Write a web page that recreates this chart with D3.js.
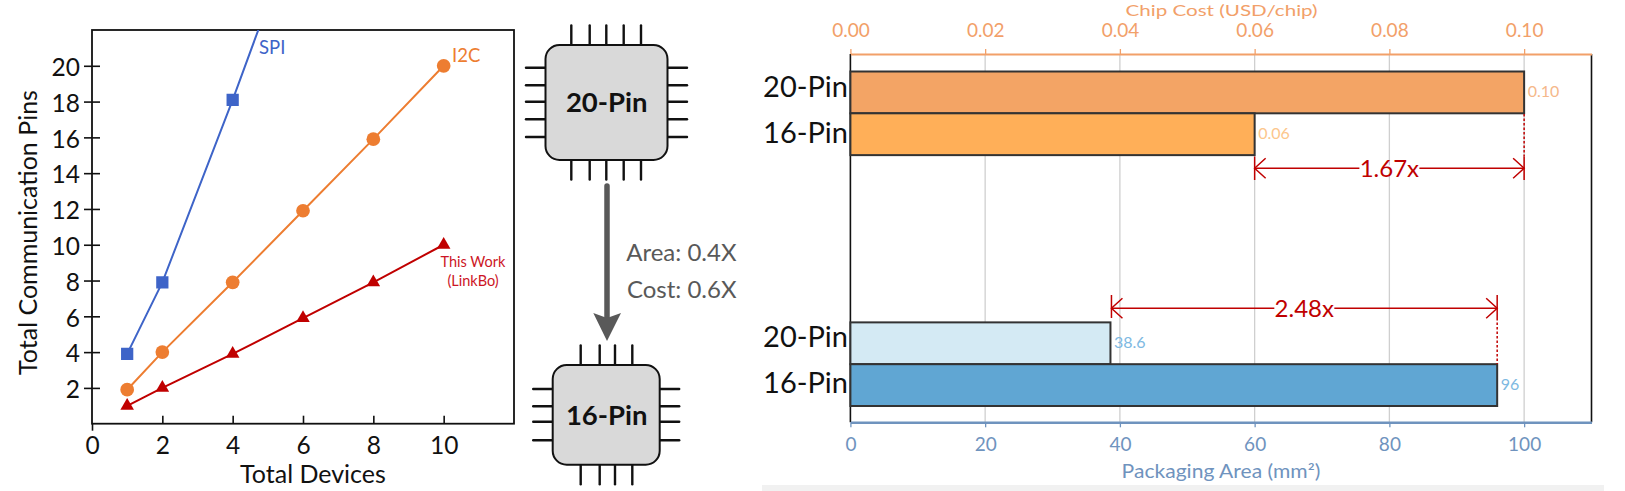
<!DOCTYPE html>
<html><head><meta charset="utf-8">
<script src="https://cdnjs.cloudflare.com/ajax/libs/d3/7.8.5/d3.min.js"></script>
<style>html,body{margin:0;padding:0;background:#fff}svg{display:block}text{font-family:Lato,"Noto Sans",sans-serif}</style>
</head><body><svg id="c" width="1625" height="491"></svg>
<script>
// ---- left line chart data
const spiDevices=[1,2,4,6];
const spiPins=[3.9,7.9,18.1,28.8];
const i2cDevices=[1,2,4,6,8,10];
const i2cPins=[1.9,4,7.9,11.9,15.9,20];
const workDevices=[1,2,4,6,8,10];
const workPins=[1,2,3.9,5.9,7.9,10];
const lineXTicks=[0,2,4,6,8,10];
const lineYTicks=[2,4,6,8,10,12,14,16,18,20];
// ---- right bar chart data
const rowSlots=["cost20","cost16","gap1","gap2","gap3","gap4","area20","area16"];
const rowLabels=["20-Pin","16-Pin","","","","","20-Pin","16-Pin"];
const costRows=["cost20","cost16"];
const costValues=[0.10,0.06];
const costText=["0.10","0.06"];
const areaRows=["area20","area16"];
const areaValues=[38.6,96];
const areaText=["38.6","96"];
const costTicks=[0,0.02,0.04,0.06,0.08,0.10];
const areaTicks=[0,20,40,60,80,100];

const svg=d3.select("#c");
const RED="#C00000",BLUE="#3E64C8",ORANGE="#ED7D31";
function txt(g,s,x,y,size,fill,anchor,weight){
  return g.append("text").text(s).attr("x",x).attr("y",y).attr("font-size",size).attr("fill",fill)
    .attr("text-anchor",anchor||"start").attr("font-weight",weight||400);
}
function wideTxt(g,s,x,y,size,fill,sx){
  return g.append("text").text(s).attr("transform",`translate(${x},${y}) scale(${sx},1)`).attr("font-size",size)
    .attr("fill",fill).attr("text-anchor","middle");
}
// ================= line chart
const L={l:92,r:514,t:30,b:423.7};
const lx=d3.scaleLinear().domain([0,12]).range([L.l,L.r]);
const ly=d3.scaleLinear().domain([0,22]).range([L.b,L.t]);
const lg=svg.append("g");
lg.append("defs").append("clipPath").attr("id","plot").append("rect")
  .attr("x",L.l).attr("y",L.t).attr("width",L.r-L.l).attr("height",L.b-L.t+8);
const xa=lg.append("g").attr("transform",`translate(0,${L.b})`).call(d3.axisBottom(lx).tickValues(lineXTicks).tickFormat(d3.format("d")).tickSizeOuter(0));
xa.select(".domain").remove();
xa.selectAll("line").attr("y1",d=>d===0?0:-8).attr("y2",d=>d===0?7:0).attr("stroke","#111").attr("stroke-width",1.6);
xa.selectAll("text").attr("y",0).attr("dy",0).attr("transform","translate(0,30.6)").attr("font-size",24.5).attr("fill","#111").attr("font-family","Lato");
const ya=lg.append("g").attr("transform",`translate(${L.l},0)`).call(d3.axisLeft(ly).tickValues(lineYTicks).tickFormat(d3.format("d")).tickSizeOuter(0));
ya.select(".domain").remove();
ya.selectAll("line").attr("x1",-8).attr("x2",8).attr("stroke","#111").attr("stroke-width",1.6);
ya.selectAll("text").attr("x",-12).attr("dy",0).attr("y",9.7).attr("font-size",24.5).attr("fill","#111").attr("font-family","Lato");
lg.append("rect").attr("x",L.l).attr("y",L.t).attr("width",L.r-L.l).attr("height",L.b-L.t).attr("fill","none").attr("stroke","#111").attr("stroke-width",1.8);
const line=d3.line().x(d=>lx(d[0])).y(d=>ly(d[1]));
const series=[
 {xs:spiDevices,ys:spiPins,c:BLUE,sym:d3.symbolSquare,size:150},
 {xs:i2cDevices,ys:i2cPins,c:ORANGE,sym:d3.symbolCircle,size:148},
 {xs:workDevices,ys:workPins,c:RED,sym:d3.symbolTriangle,size:80}];
series.forEach(s=>{
  const pts=s.xs.map((x,i)=>[x,s.ys[i]]);
  const g=lg.append("g").attr("clip-path","url(#plot)");
  g.append("path").attr("d",line(pts)).attr("fill","none").attr("stroke",s.c).attr("stroke-width",2);
  g.selectAll("path.m").data(pts).join("path").attr("class","m")
    .attr("d",d3.symbol().type(s.sym).size(s.size))
    .attr("transform",d=>`translate(${lx(d[0])},${ly(d[1])})`)
    .attr("fill",s.c);
});
txt(lg,"SPI",259,54,18.5,BLUE);
txt(lg,"I2C",452,61.7,18.5,ORANGE);
txt(lg,"This Work",473,266.7,14.5,"#CC1525","middle");
txt(lg,"(LinkBo)",473,286,14.5,"#CC1525","middle");
txt(lg,"Total Devices",313,483.3,25,"#111","middle");
lg.append("text").text("Total Communication Pins").attr("transform","translate(37,232.5) rotate(-90)")
  .attr("text-anchor","middle").attr("font-size",25).attr("fill","#111");

// ================= chips
function chip(c){
  const g=svg.append("g");
  const pin=(x1,y1,x2,y2)=>g.append("line").attr("x1",x1).attr("y1",y1).attr("x2",x2).attr("y2",y2)
    .attr("stroke","#111").attr("stroke-width",2.4).attr("stroke-linecap","round");
  c.hp.forEach(x=>{pin(x,c.y0-c.len,x,c.y0);pin(x,c.y1,x,c.y1+c.len);});
  c.vp.forEach(y=>{pin(c.x0-c.len,y,c.x0,y);pin(c.x1,y,c.x1+c.len,y);});
  g.append("rect").attr("x",c.x0).attr("y",c.y0).attr("width",c.x1-c.x0).attr("height",c.y1-c.y0)
    .attr("rx",14).attr("fill","#D9D9D9").attr("stroke","#111").attr("stroke-width",2);
  txt(g,c.label,c.tx,c.ty,27.5,"#111","middle",700);
}
chip({x0:545.5,x1:667.5,y0:45,y1:160,len:19.5,hp:[571.3,589.7,606.3,623.7,641],vp:[67.7,85.3,101.7,119.3,137],label:"20-Pin",tx:606.7,ty:112});
chip({x0:552.7,x1:659.7,y0:365,y1:464.7,len:19.5,hp:[580.7,599.7,615,632.3],vp:[389,406.3,421.7,440.3],label:"16-Pin",tx:606.7,ty:424.5});
// big arrow
svg.append("line").attr("x1",607).attr("x2",607).attr("y1",186).attr("y2",318).attr("stroke","#595959").attr("stroke-width",5.5).attr("stroke-linecap","round");
svg.append("path").attr("d","M593.3,313 L607,318 L621,313 L607,341 Z").attr("fill","#595959");
txt(svg,"Area: 0.4X",736.5,261,24,"#595959","end");
txt(svg,"Cost: 0.6X",736.5,297.5,24,"#595959","end");

// ================= bar chart
const B={l:850.4,r:1591.5,t:54,b:422.3};
const area=d3.scaleLinear().domain([0,110]).range([B.l,B.r]);
const cost=d3.scaleLinear().domain([0,0.11]).range([B.l,B.r]);
const row=d3.scaleBand().domain(rowSlots).range([71.5,406]);
const bg=svg.append("g");
bg.append("rect").attr("x",762).attr("y",485).attr("width",842).attr("height",6).attr("fill","#F1F1F1");
// grid
bg.selectAll("line.g").data(areaTicks.slice(1)).join("line").attr("class","g")
  .attr("x1",d=>area(d)).attr("x2",d=>area(d)).attr("y1",B.t).attr("y2",B.b).attr("stroke","#CFCFCF").attr("stroke-width",1.3);
// frame sides
bg.append("line").attr("x1",B.l).attr("x2",B.l).attr("y1",B.t).attr("y2",B.b).attr("stroke","#111").attr("stroke-width",1.6);
bg.append("line").attr("x1",B.r).attr("x2",B.r).attr("y1",B.t).attr("y2",B.b).attr("stroke","#111").attr("stroke-width",1.6);
// bars
const costFill=["#F3A465","#FFAF58"],areaFill=["#D4EAF4","#60A6D3"];
bg.selectAll("rect.c").data(costRows).join("rect").attr("class","c")
  .attr("x",B.l).attr("y",d=>row(d)).attr("height",row.bandwidth())
  .attr("width",(d,i)=>cost(costValues[i])-B.l).attr("fill",(d,i)=>costFill[i]).attr("stroke","#333").attr("stroke-width",2);
bg.selectAll("rect.a").data(areaRows).join("rect").attr("class","a")
  .attr("x",B.l).attr("y",d=>row(d)).attr("height",row.bandwidth())
  .attr("width",(d,i)=>area(areaValues[i])-B.l).attr("fill",(d,i)=>areaFill[i]).attr("stroke","#333").attr("stroke-width",2);
// category labels
const labelNudge=[4.3,9,0,0,0,0,3.4,8.3];
rowSlots.forEach((r,i)=>{ if(rowLabels[i]) txt(bg,rowLabels[i],848,row(r)+row.bandwidth()/2+labelNudge[i],29,"#111","end"); });
// value labels
const costLab=["#F5B88A","#FCC68C"],areaLab=["#7DB9E2","#7DB9E2"];
costRows.forEach((r,i)=>txt(bg,costText[i],cost(costValues[i])+3.5,row(r)+row.bandwidth()/2+4.5,16,costLab[i]));
areaRows.forEach((r,i)=>txt(bg,areaText[i],area(areaValues[i])+3.5,row(r)+row.bandwidth()/2+4.5,16,areaLab[i]));
// axes
const TOP="#F2A069",BOT="#6F93BE";
const ta=bg.append("g").attr("transform",`translate(0,${B.t})`).call(d3.axisTop(cost).tickValues(costTicks).tickFormat(d3.format(".2f")).tickSizeOuter(0).tickSizeInner(5));
ta.select(".domain").attr("stroke",TOP).attr("stroke-width",2.2);
ta.selectAll("line").attr("stroke",TOP).attr("stroke-width",1.3);
ta.selectAll("text").attr("y",-17.5).attr("dy",0).attr("fill",TOP).attr("font-size",19).attr("font-family","Lato");
const ba=bg.append("g").attr("transform",`translate(0,${B.b})`).call(d3.axisBottom(area).tickValues(areaTicks).tickFormat(d3.format("d")).tickSizeOuter(0).tickSizeInner(5));
ba.select(".domain").attr("stroke",BOT).attr("stroke-width",2.4);
ba.selectAll("line").attr("stroke",BOT).attr("stroke-width",1.3);
ba.selectAll("text").attr("y",29).attr("dy",0).attr("fill",BOT).attr("font-size",19).attr("font-family","Lato");
wideTxt(bg,"Chip Cost (USD/chip)",1221.5,15.6,15.5,TOP,1.33);
wideTxt(bg,"Packaging Area (mm²)",1221,478,18.5,BOT,1.14);
// bracket annotations
function bracket(x0,x1,y,ytop,ybot,label,tb,dotFrom,dotTo,dotX){
  const g=bg.append("g").attr("stroke",RED).attr("stroke-width",1.5).attr("fill","none");
  g.append("line").attr("x1",x0).attr("x2",x1).attr("y1",y).attr("y2",y);
  [x0,x1].forEach(x=>g.append("line").attr("x1",x).attr("x2",x).attr("y1",ytop).attr("y2",ybot));
  g.append("path").attr("d",`M${x0+11},${y-10} L${x0},${y} L${x0+11},${y+10}`);
  g.append("path").attr("d",`M${x1-11},${y-10} L${x1},${y} L${x1-11},${y+10}`);
  g.append("line").attr("x1",dotX).attr("x2",dotX).attr("y1",dotFrom).attr("y2",dotTo).attr("stroke-dasharray","2.5 2");
  const cx=(x0+x1)/2;
  bg.append("rect").attr("x",cx-30).attr("y",y-3).attr("width",60).attr("height",6).attr("fill","#fff");
  txt(bg,label,cx,tb,24,RED,"middle");
}
bracket(cost(0.06),cost(0.10),168.3,156.5,180,"1.67x",176.7,114,156.5,cost(0.10));
bracket(area(38.6)+1,area(96),308.3,295,318,"2.48x",316.5,318,364,area(96));
</script></body></html>
